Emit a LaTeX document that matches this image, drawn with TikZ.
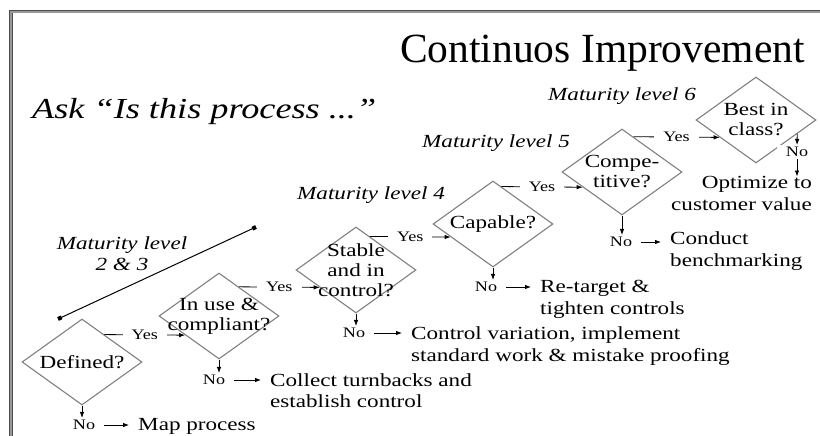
\documentclass[tikz,border=0pt]{standalone}
\usepackage{fontspec}
\setmainfont[FakeStretch=1.25]{Liberation Serif}
\newfontfamily\titlefont{Liberation Serif}
\usetikzlibrary{shapes.geometric,arrows.meta,calc}
\begin{document}
\begin{tikzpicture}
[x=1pt,y=-1pt,
dia/.style={diamond,draw=gray,line width=1.1pt,inner sep=0pt,minimum width=120pt,minimum height=86pt},
qtxt/.style={align=center,inner sep=0pt,font=\fontsize{18.5}{20}\selectfont},
yn/.style={fill=white,inner xsep=9pt,inner ysep=2pt,font=\fontsize{14.5}{16}\selectfont},
act/.style={inner sep=0pt,font=\fontsize{18.5}{21.5}\selectfont},
lvl/.style={inner sep=0pt,font=\fontsize{18.5}{21}\selectfont\itshape},
arr/.style={-{Latex[length=6pt,width=4.5pt]},line width=0.8pt},
hto/.style={arr,shorten >=9pt}]
\useasboundingbox (0,0) rectangle (820,436);
% slide frame
\draw[black!70,line width=1pt] (9,436) |- (820,10.5);
\draw[gray!80,line width=1.4pt] (10.8,436) |- (820,12.2);
\draw[black!70,line width=0.8pt] (12.5,436) -- (12.5,13);

% headings
\node[inner sep=0pt,anchor=base east,font=\titlefont\fontsize{41.5}{44}\selectfont] (title) at (805,63) {Continuos Improvement};
\node[inner sep=0pt,anchor=base west,font=\fontsize{29}{32}\selectfont\itshape] (ask) at (32,118) {Ask “Is this process ...”};

% maturity levels
\node[lvl,anchor=base west] (lv6) at (548,100) {Maturity level 6};
\node[lvl,anchor=base west] (lv5) at (422,147) {Maturity level 5};
\node[lvl,anchor=base west] (lv4) at (297,199) {Maturity level 4};
\node[lvl,anchor=north,align=center] (lv23) at (122,236.5) {Maturity level\\2 \& 3};
\coordinate (m1) at (58,319);
\coordinate (m2) at (256,227);
\draw[line width=1pt,{Square[length=4pt]}-{Square[length=4pt]}] (m1) -- (m2);

% questions
\node[dia,label={[qtxt]center:Defined?}] (d1) at (82,362) {};
\node[dia,label={[qtxt]center:In use \&\\compliant?}] (d2) at (219,316) {};
\node[dia,label={[qtxt]center:Stable\\and in\\control?}] (d3) at (356,270) {};
\node[dia,label={[qtxt]center:Capable?}] (d4) at (493,224) {};
\node[dia,label={[qtxt]center:Compe-\\titive?}] (d5) at (622,172) {};
\node[dia,label={[qtxt]center:Best in\\class?}] (d6) at (756,120) {};

% yes branches
\draw[arr] ($(d1.east)!0.63!(d1.north)$) -- node[yn] (y1) {Yes} ($(d2.west)!0.44!(d2.south)$);
\draw[arr] ($(d2.east)!0.67!(d2.north)$) -- node[yn] (y2) {Yes} ($(d3.west)!0.40!(d3.south)$);
\draw[arr] ($(d3.east)!0.77!(d3.north)$) -- node[yn] (y3) {Yes} ($(d4.west)!0.30!(d4.south)$);
\draw[arr] ($(d4.east)!0.86!(d4.north)$) -- node[yn] (y4) {Yes} ($(d5.west)!0.35!(d5.south)$);
\draw[arr] ($(d5.east)!0.81!(d5.north)$) -- node[yn] (y5) {Yes} ($(d6.west)!0.40!(d6.south)$);

% no branches
\node[yn] (n1) at (84,425) {No};
\node[yn] (n2) at (214,380) {No};
\node[yn] (n3) at (354,333) {No};
\node[yn] (n4) at (486,287) {No};
\node[yn] (n5) at (621,242) {No};
\node[yn] (n6) at (797,152) {No};

\node[act,anchor=north west] (a1) at (138,418.5) {Map process};
\node[act,anchor=north west,align=left] (a2) at (270,373) {Collect turnbacks and\\establish control};
\node[act,anchor=north west,align=left] (a3) at (411,326.5) {Control variation, implement\\standard work \& mistake proofing};
\node[act,anchor=north west,align=left] (a4) at (540,280) {Re-target \&\\tighten controls};
\node[act,anchor=north west,align=left] (a5) at (670,231.5) {Conduct\\benchmarking};
\node[act,anchor=north east,align=right] (a6) at (812,176.5) {Optimize to\\customer value};

\draw[arr] (d1.south) -- (d1.south |- n1.north);
\draw[arr] (d2.south) -- (d2.south |- n2.north);
\draw[arr] (d3.south) -- (d3.south |- n3.north);
\draw[arr] (d4.south) -- (d4.south |- n4.north);
\draw[arr] (d5.south) -- (d5.south |- n5.north);
\draw[arr] ($(d6.east)!0.32!(d6.south)$) -- (n6);

\draw[hto] (n1) -- (n1 -| a1.west);
\draw[hto] (n2) -- (n2 -| a2.west);
\draw[hto] (n3) -- (n3 -| a3.west);
\draw[hto] (n4) -- (n4 -| a4.west);
\draw[hto] (n5) -- (n5 -| a5.west);
\draw[arr] (n6) -- (n6 |- a6.north);

\end{tikzpicture}
\end{document}
